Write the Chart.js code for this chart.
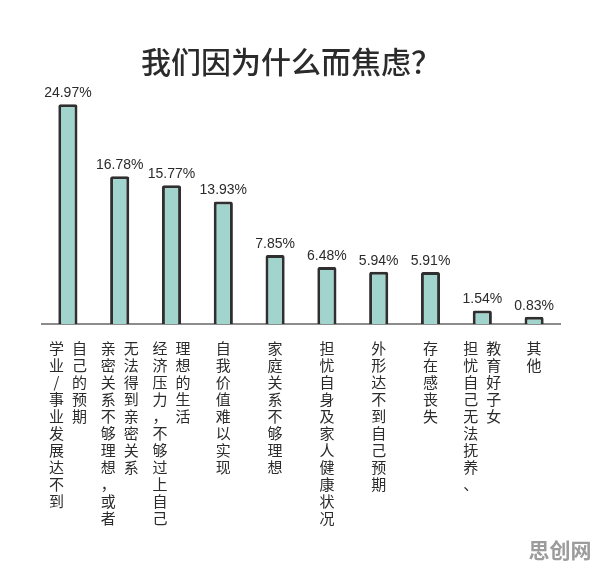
<!DOCTYPE html>
<html><head><meta charset="utf-8">
<script src="https://cdn.jsdelivr.net/npm/chart.js@4/dist/chart.umd.min.js"></script>
<style>html,body{margin:0;padding:0;background:#fff}#wrap{width:596px;height:569px}</style>
</head><body><div id="wrap"><canvas id="c" width="596" height="569"></canvas></div>
<script>
const chartTitle = "我们因为什么而焦虑？";
const categories = ["学业/事业发展达不到自己的预期","亲密关系不够理想，或者无法得到亲密关系","经济压力，不够过上自己理想的生活","自我价值难以实现","家庭关系不够理想","担忧自身及家人健康状况","外形达不到自己预期","存在感丧失","担忧自己无法抚养、教育好子女","其他"];
const labelColumns = [
  ["学业/事业发展达不到","自己的预期"],
  ["亲密关系不够理想，或者","无法得到亲密关系"],
  ["经济压力，不够过上自己","理想的生活"],
  ["自我价值难以实现"],
  ["家庭关系不够理想"],
  ["担忧自身及家人健康状况"],
  ["外形达不到自己预期"],
  ["存在感丧失"],
  ["担忧自己无法抚养、","教育好子女"],
  ["其他"]
];
const values = [24.97,16.78,15.77,13.93,7.85,6.48,5.94,5.91,1.54,0.83];
const valueLabels = ["24.97%","16.78%","15.77%","13.93%","7.85%","6.48%","5.94%","5.91%","1.54%","0.83%"];
const watermark = "思创网";

const decor = {
  id:'decor',
  afterDraw(chart){
    const ctx = chart.ctx;
    const meta = chart.getDatasetMeta(0);
    ctx.save();
    ctx.fillStyle = '#2b2b2b';
    ctx.font = '500 30px "Noto Sans CJK SC"';
    ctx.textAlign = 'center';
    ctx.textBaseline = 'middle';
    ctx.fillText(chartTitle, 291, 62);
    ctx.font = '14px "Liberation Sans"';
    ctx.textBaseline = 'alphabetic';
    meta.data.forEach((bar,i)=>{
      ctx.fillText(valueLabels[i], bar.x, bar.y - 7);
    });
    ctx.font = '15px "Noto Sans CJK SC"';
    ctx.textBaseline = 'top';
    const xs = chart.scales.x;
    labelColumns.forEach((cols,i)=>{
      const cx = xs.getPixelForTick(i);
      const n = cols.length;
      cols.forEach((col,j)=>{
        const x = cx + (j - (n-1)/2) * 23;
        [...col].forEach((ch,k)=>{
          ctx.fillText(ch, x, 341 + k*17);
        });
      });
    });
    ctx.fillStyle = '#9c9c9c';
    ctx.font = 'bold 21px "Noto Sans CJK SC"';
    ctx.textBaseline = 'middle';
    ctx.fillText(watermark, 560, 550);
    ctx.restore();
  }
};

new Chart(document.getElementById('c'), {
  type:'bar',
  data:{
    labels: categories,
    datasets:[{
      data: values,
      backgroundColor:'#a2d4ce',
      borderColor:'#2f2f2f',
      borderWidth:3,
      borderRadius:2,
      borderSkipped:'bottom',
      barPercentage:0.37,
      categoryPercentage:1
    }]
  },
  options:{
    responsive:false,
    animation:false,
    layout:{padding:{top:104,bottom:237,left:42,right:36}},
    plugins:{legend:{display:false},title:{display:false},tooltip:{enabled:false}},
    scales:{
      x:{display:true,grid:{display:false},ticks:{display:false},border:{display:true,color:'#8c8c8c',width:2}},
      y:{display:false,min:0,max:25}
    }
  },
  plugins:[decor]
});
</script></body></html>
